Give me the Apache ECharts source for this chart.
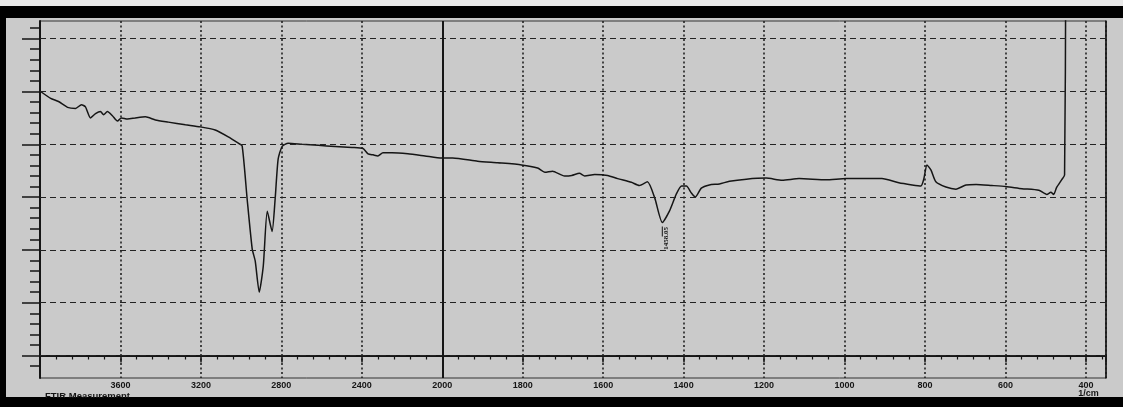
<!DOCTYPE html>
<html>
<head>
<meta charset="utf-8">
<script src="https://cdn.jsdelivr.net/npm/echarts@6/dist/echarts.min.js"></script>
<style>
html,body{margin:0;padding:0;background:#000;}
#chart{width:1123px;height:407px;}
</style>
</head>
<body>
<div id="chart"></div>
<script>
// spectrum (1/cm, %T in grid units)
const wavenumber = [3997, 3947, 3908, 3863, 3823, 3794, 3774, 3749, 3724, 3699, 3684, 3665, 3640, 3615, 3595,
  3565, 3526, 3476, 3426, 3362, 3277, 3203, 3129, 3064, 3014, 2995, 2970, 2945, 2930, 2910, 2890, 2870, 2846,
  2831, 2816, 2796, 2766, 2697, 2617, 2533, 2449, 2394, 2369, 2344, 2320, 2295, 2250, 2171, 2086, 2002, 1974,
  1912, 1862, 1803, 1763, 1745, 1726, 1696, 1678, 1659, 1646, 1621, 1589, 1564, 1530, 1510, 1490, 1472, 1453,
  1435, 1418, 1405, 1393, 1381, 1371, 1356, 1336, 1311, 1286, 1244, 1195, 1155, 1113, 1046, 996, 946, 907, 865,
  832, 810, 803, 795, 785, 773, 748, 723, 698, 673, 634, 599, 559, 517, 497, 487, 480, 473, 460, 453, 450];
const transmittance = [50.0, 48.7, 48.1, 47.0, 46.8, 47.5, 47.1, 45.0, 45.8, 46.2, 45.6, 46.2, 45.4, 44.4, 45.0,
  44.8, 45.0, 45.2, 44.6, 44.2, 43.7, 43.3, 42.7, 41.4, 40.2, 39.7, 29.6, 20.2, 17.9, 12.0, 16.9, 27.3, 23.5,
  29.6, 37.2, 39.6, 40.2, 40.0, 39.8, 39.6, 39.4, 39.2, 38.2, 38.0, 37.8, 38.4, 38.4, 38.2, 37.8, 37.4, 37.4,
  36.8, 36.5, 36.1, 35.5, 34.7, 34.9, 34.0, 34.1, 34.5, 34.0, 34.3, 34.1, 33.5, 32.8, 32.2, 32.9, 29.9, 25.2,
  27.4, 30.6, 32.1, 32.1, 30.8, 30.0, 31.7, 32.3, 32.5, 33.0, 33.4, 33.6, 33.2, 33.5, 33.3, 33.5, 33.5, 33.5, 32.7,
  32.3, 32.1, 33.4, 36.1, 35.1, 32.9, 31.9, 31.5, 32.3, 32.4, 32.2, 32.0, 31.6, 31.3, 30.5, 30.9, 30.5, 31.8,
  33.3, 34.2, 75];
const xTickLabels = [3600, 3200, 2800, 2400, 2000, 1800, 1600, 1400, 1200, 1000, 800, 600, 400];
const gridValues = [0, 10, 20, 30, 40, 50, 60];
const minorValues = [-2, 2, 4, 6, 8, 12, 14, 16, 18, 22, 24, 26, 28, 32, 34, 36, 38, 42, 44, 46, 48, 52, 54, 56, 58, 62];
const peakWavenumber = 1453;
const peakValue = 25.2;
const peakLabel = '1458.05';
const footer = 'FTIR Measurement';
const unit = '1/cm';

// above 2000 1/cm the recorder uses half the scale
function toPos(w) { return w <= 2000 ? w : 2000 + (w - 2000) / 2; }
function toWave(p) { return p <= 2000 ? p : 2000 + (p - 2000) * 2; }

const points = wavenumber.map((w, i) => [-toPos(w), transmittance[i]]);

const paper = '#cacaca';
const ink = '#151515';
const yMin = -4.26, yMax = 63.35;

const chart = echarts.init(document.getElementById('chart'));
chart.setOption({
  backgroundColor: '#000',
  animation: false,
  graphic: [
    { type: 'rect', z: -100, shape: { x: 0, y: 0, width: 1123, height: 6 }, style: { fill: '#e8e8e8' } },
    { type: 'rect', z: -100, shape: { x: 6, y: 18, width: 1117, height: 379 }, style: { fill: paper } },
    { type: 'text', z: 10, left: 45, top: 391, style: { text: footer, font: 'bold 9.5px "Liberation Sans"', fill: ink } },
    { type: 'rect', z: 20, shape: { x: 0, y: 398, width: 1123, height: 9 }, style: { fill: '#000' } }
  ],
  grid: { left: 40, right: 17, top: 21, bottom: 29, show: true, borderColor: '#333', borderWidth: 1 },
  xAxis: {
    type: 'value', min: -3000, max: -350, interval: 200,
    axisLine: { lineStyle: { color: ink, width: 2 } },
    axisTick: { length: 7, lineStyle: { color: ink, width: 1.5 } },
    minorTick: { show: true, splitNumber: 5, length: 4, lineStyle: { color: ink, width: 1.2 } },
    splitLine: { show: true, lineStyle: { color: '#222', width: 1.6, type: [2, 2.5] } },
    axisLabel: {
      margin: 4, color: ink, fontFamily: 'Liberation Sans', fontWeight: 'bold', fontSize: 9, lineHeight: 8,
      formatter: v => {
        const w = Math.round(toWave(-v));
        if (!xTickLabels.includes(w)) return '';
        return w === 400 ? w + '\n  ' + unit : String(w);
      }
    }
  },
  yAxis: [
    {
      type: 'value', min: yMin, max: yMax,
      axisLine: { show: true, lineStyle: { color: ink, width: 2 } },
      axisTick: { show: true, customValues: gridValues, length: 18, lineStyle: { color: ink, width: 1.5 } },
      splitLine: { show: false }, axisLabel: { show: false }
    },
    {
      type: 'value', min: yMin, max: yMax, position: 'left',
      axisLine: { show: false },
      axisTick: { show: true, customValues: minorValues, length: 10, lineStyle: { color: ink, width: 1.5 } },
      splitLine: { show: false }, axisLabel: { show: false }
    },
    {
      type: 'value', min: yMin, max: yMax, position: 'right',
      axisLine: { show: true, lineStyle: { color: ink, width: 1.5 } },
      axisTick: { show: false }, splitLine: { show: false }, axisLabel: { show: false }
    }
  ],
  series: [{
    type: 'line',
    data: points,
    showSymbol: false,
    smooth: 0.2,
    clip: true,
    lineStyle: { color: ink, width: 1.5 },
    markLine: {
      silent: true, symbol: 'none', label: { show: false },
      data: [
        ...gridValues.map(v => ({ yAxis: v, lineStyle: { color: '#222', width: 1.2, type: [6, 4] } })),
        { xAxis: -2000, lineStyle: { color: ink, width: 2, type: 'solid' } }
      ]
    },
    markPoint: {
      silent: true,
      data: [{
        coord: [-toPos(peakWavenumber), peakValue],
        symbol: 'rect', symbolSize: [1, 10], symbolOffset: [0, 9],
        itemStyle: { color: ink },
        label: {
          show: true, formatter: peakLabel, rotate: 90, position: 'bottom', distance: 2,
          color: ink, fontSize: 7, fontWeight: 'bold', fontFamily: 'Liberation Sans Narrow'
        }
      }]
    }
  }]
});
</script>
</body>
</html>
